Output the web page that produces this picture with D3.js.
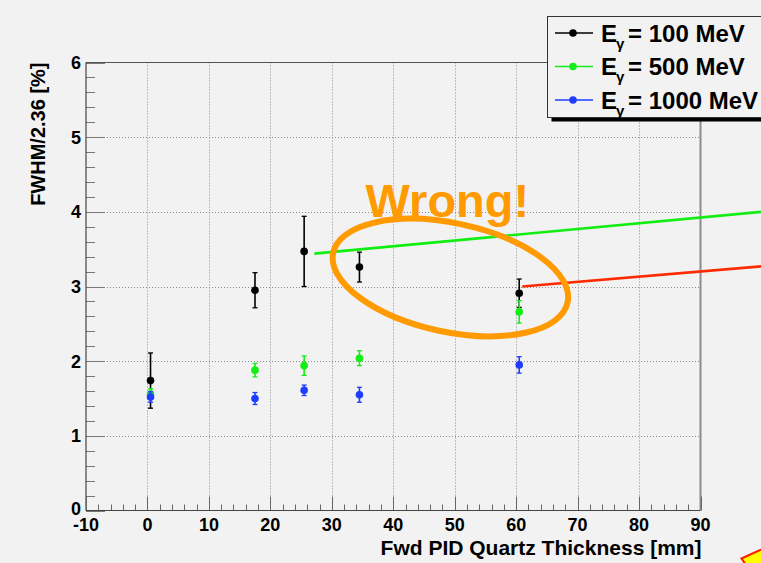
<!DOCTYPE html>
<html>
<head>
<meta charset="utf-8">
<script src="https://cdn.jsdelivr.net/npm/d3@7"></script>
<style>
  html, body { margin: 0; padding: 0; background: #f2f2f2; }
  svg { display: block; }
  text { font-family: "Liberation Sans", Arial, Helvetica, sans-serif; }
</style>
</head>
<body>
<svg id="chart" width="761" height="563"></svg>
<script>
// Quartz thickness (mm) for each measurement
const thickness = [0.5, 17.5, 25.5, 34.5, 60.5];

// Resolution FWHM/2.36 [%] and its uncertainty for each photon energy
const res100  = [1.74, 2.95, 3.47, 3.26, 2.91];
const err100  = [0.37, 0.235, 0.47, 0.20, 0.19];
const res500  = [1.56, 1.88, 1.94, 2.04, 2.66];
const err500  = [0.07, 0.09, 0.13, 0.10, 0.15];
const res1000 = [1.52, 1.50, 1.61, 1.55, 1.95];
const err1000 = [0.07, 0.08, 0.07, 0.10, 0.11];

const seriesNames  = ["100", "500", "1000"];
const seriesColors = ["#000000", "#14ee14", "#1f3dff"];

// Axis ticks
const xTicks = [-10, 0, 10, 20, 30, 40, 50, 60, 70, 80, 90];
const yTicks = [0, 1, 2, 3, 4, 5, 6];

// Overlaid annotation lines (data coordinates)
const greenLine = [[27.15, 3.44], [100, 4.0]];
const redLine   = [[61.0, 3.0], [100, 3.27]];

const svg = d3.select("#chart");
const W = 761, H = 563;
const pLeft = 86, pRight = 700.5, pTop = 62.5, pBottom = 510.5;

const x = d3.scaleLinear().domain([-10, 90]).range([pLeft, pRight]);
const y = d3.scaleLinear().domain([0, 6]).range([pBottom, pTop]);

svg.append("rect").attr("width", W).attr("height", H).attr("fill", "#f2f2f2");

// Grid (dotted)
const grid = svg.append("g").attr("stroke", "#8a8a8a").attr("stroke-width", 1)
  .attr("stroke-dasharray", "1,2");
grid.selectAll("line.v").data(xTicks.filter(t => t > -10 && t < 90)).join("line")
  .attr("class", "v")
  .attr("x1", d => Math.round(x(d)) + 0.5).attr("x2", d => Math.round(x(d)) + 0.5)
  .attr("y1", pTop).attr("y2", pBottom);
grid.selectAll("line.h").data(yTicks.filter(t => t > 0 && t < 6)).join("line")
  .attr("class", "h")
  .attr("x1", pLeft).attr("x2", pRight)
  .attr("y1", d => Math.round(y(d)) + 0.5).attr("y2", d => Math.round(y(d)) + 0.5);

// Frame
svg.append("line").attr("x1", pLeft).attr("x2", pRight).attr("y1", pTop).attr("y2", pTop)
  .attr("stroke", "#555").attr("stroke-width", 1);
svg.append("line").attr("x1", pRight).attr("x2", pRight).attr("y1", pTop).attr("y2", pBottom)
  .attr("stroke", "#8c8c8c").attr("stroke-width", 2);

// Y axis: ticks inside, to the right
const yAxis = svg.append("g");
const yMinor = d3.range(0, 6.0001, 0.2).map(v => +v.toFixed(1));
yAxis.selectAll("line.t").data(yMinor).join("line")
  .attr("class", "t")
  .attr("x1", pLeft).attr("x2", d => pLeft + (Math.abs(d - Math.round(d)) < 1e-6 ? 19 : 9))
  .attr("y1", d => Math.round(y(d)) + 0.5).attr("y2", d => Math.round(y(d)) + 0.5)
  .attr("stroke", "#777").attr("stroke-width", 1);
yAxis.append("line").attr("x1", pLeft).attr("x2", pLeft).attr("y1", pTop).attr("y2", pBottom)
  .attr("stroke", "#444").attr("stroke-width", 1.2);
yAxis.selectAll("text").data(yTicks).join("text")
  .attr("x", 81).attr("y", d => y(d) - (d === 0 ? 1.5 : 0)).attr("dy", "0.36em")
  .attr("text-anchor", "end").attr("font-size", 18).attr("font-weight", "bold")
  .text(d => d);

// X axis: ticks inside, upward
const xAxis = svg.append("g");
const xMinor = d3.range(-10, 90.0001, 2);
xAxis.selectAll("line.t").data(xMinor).join("line")
  .attr("class", "t")
  .attr("x1", d => Math.round(x(d)) + 0.5).attr("x2", d => Math.round(x(d)) + 0.5)
  .attr("y1", pBottom).attr("y2", d => pBottom - (d % 10 === 0 ? 14 : 6))
  .attr("stroke", "#666").attr("stroke-width", 1);
xAxis.append("line").attr("x1", pLeft).attr("x2", pRight).attr("y1", pBottom).attr("y2", pBottom)
  .attr("stroke", "#444").attr("stroke-width", 1.2);
xAxis.selectAll("text").data(xTicks).join("text")
  .attr("x", d => x(d)).attr("y", 531)
  .attr("text-anchor", "middle").attr("font-size", 18).attr("font-weight", "bold")
  .text(d => d);

// Axis titles
svg.append("text").attr("x", pRight + 1).attr("y", 555)
  .attr("text-anchor", "end").attr("font-size", 21).attr("font-weight", "bold")
  .text("Fwd PID Quartz Thickness [mm]");
svg.append("text").attr("transform", `translate(45,${pTop}) rotate(-90)`)
  .attr("text-anchor", "end").attr("font-size", 20).attr("font-weight", "bold")
  .text("FWHM/2.36 [%]");

// Data series with error bars
const series = [
  { vals: res100, errs: err100 },
  { vals: res500, errs: err500 },
  { vals: res1000, errs: err1000 }
];
series.forEach((s, i) => {
  const g = svg.append("g");
  const pts = thickness.map((t, k) => ({ t, v: s.vals[k], e: s.errs[k] }));
  const col = seriesColors[i];
  g.selectAll("line.bar").data(pts).join("line")
    .attr("class", "bar")
    .attr("x1", d => x(d.t)).attr("x2", d => x(d.t))
    .attr("y1", d => y(d.v - d.e)).attr("y2", d => y(d.v + d.e))
    .attr("stroke", col).attr("stroke-width", 1.6);
  [-1, 1].forEach(sign => {
    const cls = sign > 0 ? "capu" : "capd";
    g.selectAll("line." + cls).data(pts).join("line")
      .attr("class", cls)
      .attr("x1", d => x(d.t) - 2.5).attr("x2", d => x(d.t) + 2.5)
      .attr("y1", d => y(d.v + sign * d.e)).attr("y2", d => y(d.v + sign * d.e))
      .attr("stroke", col).attr("stroke-width", 1.3);
  });
  g.selectAll("circle").data(pts).join("circle")
    .attr("cx", d => x(d.t)).attr("cy", d => y(d.v)).attr("r", 3.8)
    .attr("fill", col);
});

// Annotation lines
const line = d3.line().x(d => x(d[0])).y(d => y(d[1]));
svg.append("path").attr("d", line(greenLine)).attr("fill", "none")
  .attr("stroke", "#12ee12").attr("stroke-width", 2.6);
svg.append("path").attr("d", line(redLine)).attr("fill", "none")
  .attr("stroke", "#ff2a00").attr("stroke-width", 2.6);

// Orange callout ellipse and label
const orange = "#ff9a00";
const ellCenter = [49.3, 3.12];
const pxPerUnit = x(1) - x(0);
svg.append("ellipse")
  .attr("transform", `translate(${x(ellCenter[0])},${y(ellCenter[1])}) rotate(12)`)
  .attr("rx", 19.5 * pxPerUnit).attr("ry", 8.85 * pxPerUnit)
  .attr("fill", "none").attr("stroke", orange).attr("stroke-width", 6);
svg.append("text").attr("x", x(35.5)).attr("y", y(3.93))
  .attr("font-size", 47).attr("font-weight", "bold").attr("fill", orange)
  .text("Wrong!");

// Legend
const lg = svg.append("g");
const lx = 547.5, ly = 16.5, lw = 230, lh = 101;
lg.append("rect").attr("x", lx + 4).attr("y", ly + 4).attr("width", lw).attr("height", lh)
  .attr("fill", "#000");
lg.append("rect").attr("x", lx).attr("y", ly).attr("width", lw).attr("height", lh)
  .attr("fill", "#f2f2f2").attr("stroke", "#333").attr("stroke-width", 1);
seriesNames.forEach((name, i) => {
  const cy = 33 + i * 33.5;
  lg.append("line").attr("x1", 555).attr("x2", 593).attr("y1", cy).attr("y2", cy)
    .attr("stroke", seriesColors[i]).attr("stroke-width", 1.3);
  lg.append("circle").attr("cx", 573).attr("cy", cy).attr("r", 3.8).attr("fill", seriesColors[i]);
  const t = lg.append("text").attr("x", 601).attr("y", cy + 8.5)
    .attr("font-size", 24).attr("font-weight", "bold");
  t.append("tspan").text("E");
  t.append("tspan").attr("font-size", 15).attr("dy", 7).attr("dx", -1).text("γ");
  t.append("tspan").attr("dy", -7).attr("x", 628).text(`= ${name} MeV`);
});

// Corner pointer shape, partly off the page
svg.append("polygon")
  .attr("points", [[W - 19.5, H - 4.5], [W + 10, H - 18], [W + 10, H + 10], [W - 12, H + 6]].map(p => p.join(",")).join(" "))
  .attr("fill", "#ffff00").attr("stroke", "#ff1a00").attr("stroke-width", 2);
</script>
</body>
</html>
